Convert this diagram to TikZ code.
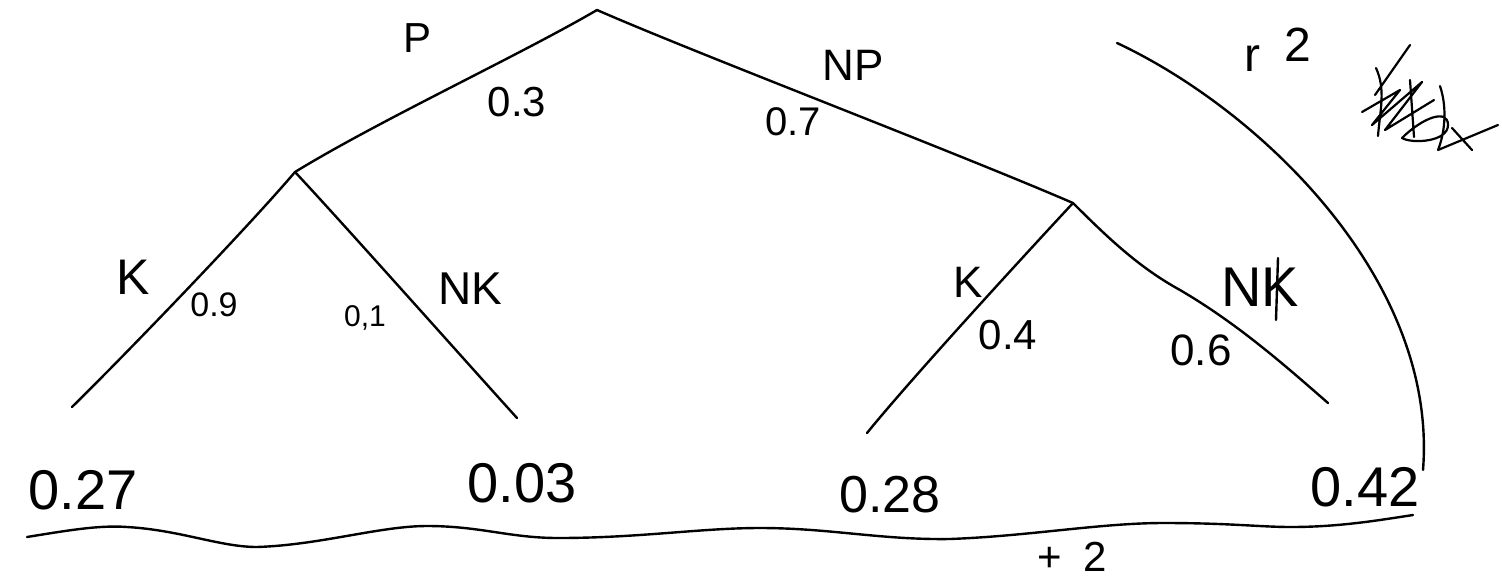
\documentclass[tikz,border=0pt]{standalone}
\usepackage{fontspec}
\setmainfont{Liberation Sans}
\begin{document}
\begin{tikzpicture}[x=1pt,y=-1pt,
  pen/.style={line width=2.4pt, line cap=round, line join=round},
  txt/.style={inner sep=0pt, anchor=center, font=\fontsize{#1}{#1}\selectfont}]
\useasboundingbox[fill=white] (0,0) rectangle (1502,582);
% tree vertices
\coordinate (root) at (597,10);
\coordinate (p) at (295,172);
\coordinate (np) at (1073,203);
\coordinate (pk) at (72,407);
\coordinate (pnk) at (517,418);
\coordinate (npk) at (867,433);
\coordinate (npnk) at (1328,403);
% branches
\draw[pen] (root) .. controls (520,55) and (380,120) .. (p);
\draw[pen] (root) .. controls (700,55) and (950,150) .. (np);
\draw[pen] (p) .. controls (250,225) and (130,350) .. (pk);
\draw[pen] (p) .. controls (340,220) and (460,355) .. (pnk);
\draw[pen] (np) .. controls (1020,260) and (910,380) .. (npk);
\draw[pen] (np) .. controls (1110,240) and (1140,268) .. (1180,290)
                .. controls (1240,325) and (1290,370) .. (npnk);
% branch labels
\node[txt=42] (lP) at (418,38) {P};
\node[txt=42] (l03) at (517,102) {0.3};
\node[txt=44] (lNP) at (853,65) {NP};
\node[txt=40] (l07) at (793,122) {0.7};
\node[txt=50] (lK1) at (133,277) {K};
\node[txt=34] (l09) at (214,305) {0.9};
\node[txt=30] (l01) at (365,318) {0,1};
\node[txt=46] (lNK1) at (470,289) {NK};
\node[txt=44] (lK2) at (968,282) {K};
\node[txt=42] (l04) at (1008,335) {0.4};
\node[txt=56] (lNK2) at (1260,287) {NK};
\draw[pen] (1278,258) -- (1276,320);
\node[txt=44] (l06) at (1201,350) {0.6};
% leaf values
\node[txt=56] (v1) at (83,490) {0.27};
\node[txt=56] (v2) at (522,483) {0.03};
\node[txt=52] (v3) at (890,495) {0.28};
\node[txt=56] (v4) at (1365,487) {0.42};
% sum line
\coordinate (s0) at (27,537);
\coordinate (s1) at (1413,515);
\draw[pen] (s0) .. controls (70,530) and (100,525) .. (127,527)
  .. controls (180,530) and (220,547) .. (257,547)
  .. controls (320,545) and (380,526) .. (427,526)
  .. controls (480,526) and (510,538) .. (558,538)
  .. controls (640,538) and (700,528) .. (760,528)
  .. controls (830,528) and (880,540) .. (950,539)
  .. controls (1030,536) and (1100,523) .. (1164,523)
  .. controls (1230,523) and (1260,527) .. (1291,527)
  .. controls (1340,527) and (1380,520) .. (s1);
\node[txt=42] (plus2) at (1072,557) {+\hspace{22pt}2};
% right bracket curve
\coordinate (c0) at (1117,43);
\coordinate (c1) at (1423,470);
\draw[pen] (c0) .. controls (1260,110) and (1438,280) .. (c1);
\node[txt=48] (r2) at (1278,50) {r\hspace{24pt}\raisebox{10pt}{2}};
% scribble
\draw[pen, line width=2.2pt] (1410,45) -- (1375,95)
  (1376,68) .. controls (1386,90) and (1380,110) .. (1378,136)
  (1362,112) -- (1400,90) -- (1372,125) -- (1422,82) -- (1385,130) -- (1434,100)
  (1410,80) -- (1414,137)
  (1402,138) .. controls (1422,118) and (1448,108) .. (1448,125)
  .. controls (1448,142) and (1412,144) .. (1402,138)
  (1440,86) .. controls (1448,110) and (1444,135) .. (1438,150)
  (1438,150) -- (1498,125)
  (1452,128) -- (1472,150);
\end{tikzpicture}
\end{document}
